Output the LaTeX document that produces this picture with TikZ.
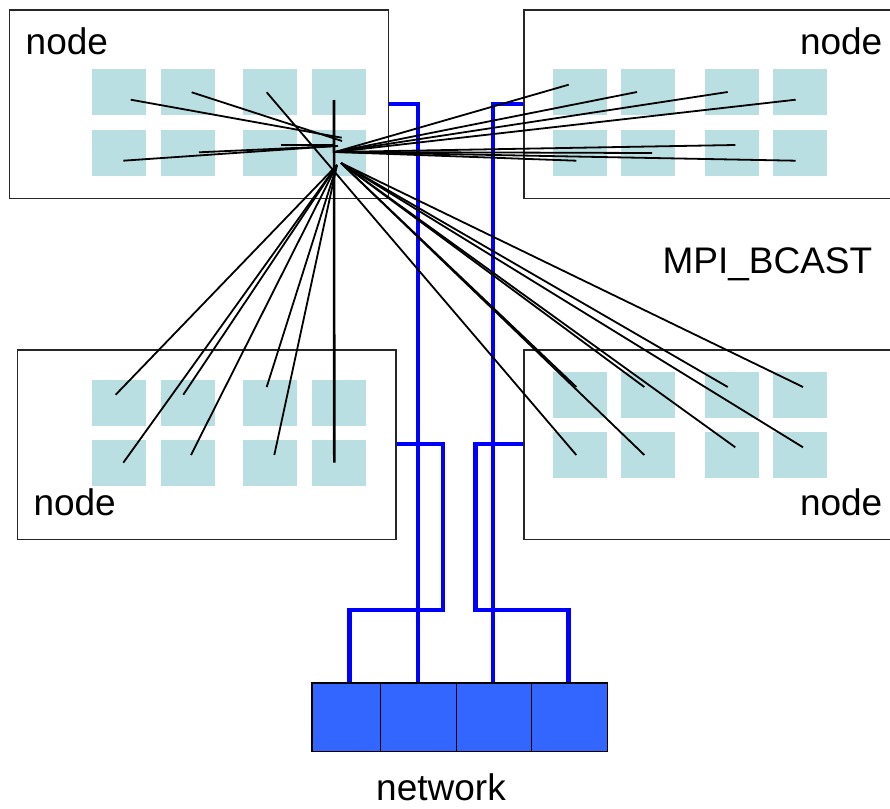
\documentclass[tikz,border=0pt]{standalone}
\usepackage{fontspec}
\setmainfont{Liberation Sans}
\definecolor{coreblue}{RGB}{186,223,226}
\definecolor{linkblue}{RGB}{0,0,255}
\definecolor{portblue}{RGB}{51,102,255}
\begin{document}
\begin{tikzpicture}[x=1pt,y=-1pt,
  hostbox/.style={draw=black!85,line width=1.4pt,fill=white,inner sep=0pt,anchor=north west},
  core/.style={fill=coreblue,draw=none,inner sep=0pt,anchor=north west,minimum width=54pt,minimum height=46pt},
  msg/.style={line width=1.8pt,black},
  trunk/.style={line width=2.6pt,black},
  link/.style={draw=linkblue,line width=4.5pt,line join=miter},
  port/.style={fill=portblue,draw=black,line width=1.4pt,inner sep=0pt,anchor=north west,minimum height=68.4pt},
  lbl/.style={inner sep=0pt,font=\fontsize{37}{44}\selectfont}]
\useasboundingbox (0,0) rectangle (890,808);
\clip (0,0) rectangle (890,808);

% four hosts
\node[hostbox,minimum width=378.7pt,minimum height=188.5pt] (hostTL) at (9,9.5) {};
\node[hostbox,minimum width=380pt,minimum height=188.5pt] (hostTR) at (523.3,9.5) {};
\node[hostbox,minimum width=378.6pt,minimum height=189.7pt] (hostBL) at (16.7,349.3) {};
\node[hostbox,minimum width=380pt,minimum height=189.7pt] (hostBR) at (523.3,349.3) {};

% processor cores inside each host
\foreach \c/\x in {1/92,2/161,3/243,4/312}{
  \node[core] (tl-1-\c) at (\x,69) {};
  \node[core] (tl-2-\c) at (\x,130) {};
  \node[core] (bl-1-\c) at (\x,380) {};
  \node[core] (bl-2-\c) at (\x,440) {};
}
\foreach \c/\x in {1/552.7,2/621,3/705,4/773}{
  \node[core] (tr-1-\c) at (\x,69) {};
  \node[core] (tr-2-\c) at (\x,130) {};
  \node[core] (br-1-\c) at (\x,372) {};
  \node[core] (br-2-\c) at (\x,432) {};
}

% labels
\node[lbl,anchor=base west] (labTL) at (25.5,55) {node};
\node[lbl,anchor=base east] (labTR) at (882.5,55) {node};
\node[lbl,anchor=base west] (labBL) at (33.3,515) {node};
\node[lbl,anchor=base east] (labBR) at (882.5,515) {node};
\node[lbl,anchor=base west] (labBC) at (662.3,273.5) {MPI\_BCAST};

% network switch ports
\node[port,minimum width=68.7pt] (p1) at (311.3,682.3) {};
\node[port,minimum width=75.7pt] (p2) at (380,682.3) {};
\node[port,minimum width=75pt] (p3) at (455.7,682.3) {};
\node[port,minimum width=76.3pt] (p4) at (530.7,682.3) {};
\node[lbl,anchor=base,text depth=0pt] (labNet) at (441,800) {network};

% host-to-switch cables
\draw[link] (hostTL.east |- 0,104) -| (p2.north -| 418,0);
\draw[link] (hostTR.west |- 0,104) -| (p3.north -| 493,0);
\draw[link] (hostBL.east |- 0,444) -- (443,444) -- (443,610) -- (349.7,610) -- (p1.north -| 349.7,0);
\draw[link] (hostBR.west |- 0,444) -- (475.7,444) -- (475.7,610) -- (568.7,610) -- (p4.north -| 568.7,0);

% message end points
\foreach \n/\x/\y in {
  a1/130.7/99.7, a2/191.7/92.3, a3/266.7/92.3, a4/334/100,
  a5/123.3/160.7, a6/199/152.3, a7/281/145,
  b1/568.7/84.7, b2/637/92, b3/727.7/92, b4/795.7/99.7,
  b5/576.3/160.7, b6/652/153, b7/735.3/145, b8/795.7/160.7,
  c1/115.7/394.7, c2/183.3/394.7, c3/266.7/387,
  c5/123.3/462.7, c6/191/455, c7/274.3/455, c8/334.3/462.7,
  d1/576.3/387, d2/644.3/387, d3/727.7/387, d4/803/387,
  d5/576.3/455, d6/644.3/455, d7/735.3/447.3, d8/803/447.3,
  hA/341.7/137.7, hA2/342/141, hL/336/146, hL2/338/146, hL3/334/145,
  hR/335/152, hB/337/165, hD/341/163}
  \coordinate (\n) at (\x,\y);

% broadcast messages from the root process
\draw[trunk] (a4) -- (c8);
\foreach \s/\t in {a1/hA, a2/hA2, a5/hL, a6/hL2, a7/hL3, a3/d5,
  hR/b1, hR/b2, hR/b3, hR/b4, hR/b5, hR/b6, hR/b7, hR/b8,
  hB/c1, hB/c2, hB/c3, hB/c5, hB/c6, hB/c7,
  hD/d1, hD/d2, hD/d3, hD/d4, hD/d6, hD/d7, hD/d8}
  \draw[msg] (\s) -- (\t);
\draw[msg] (a4 |- hR) -- (hR);
\end{tikzpicture}
\end{document}
